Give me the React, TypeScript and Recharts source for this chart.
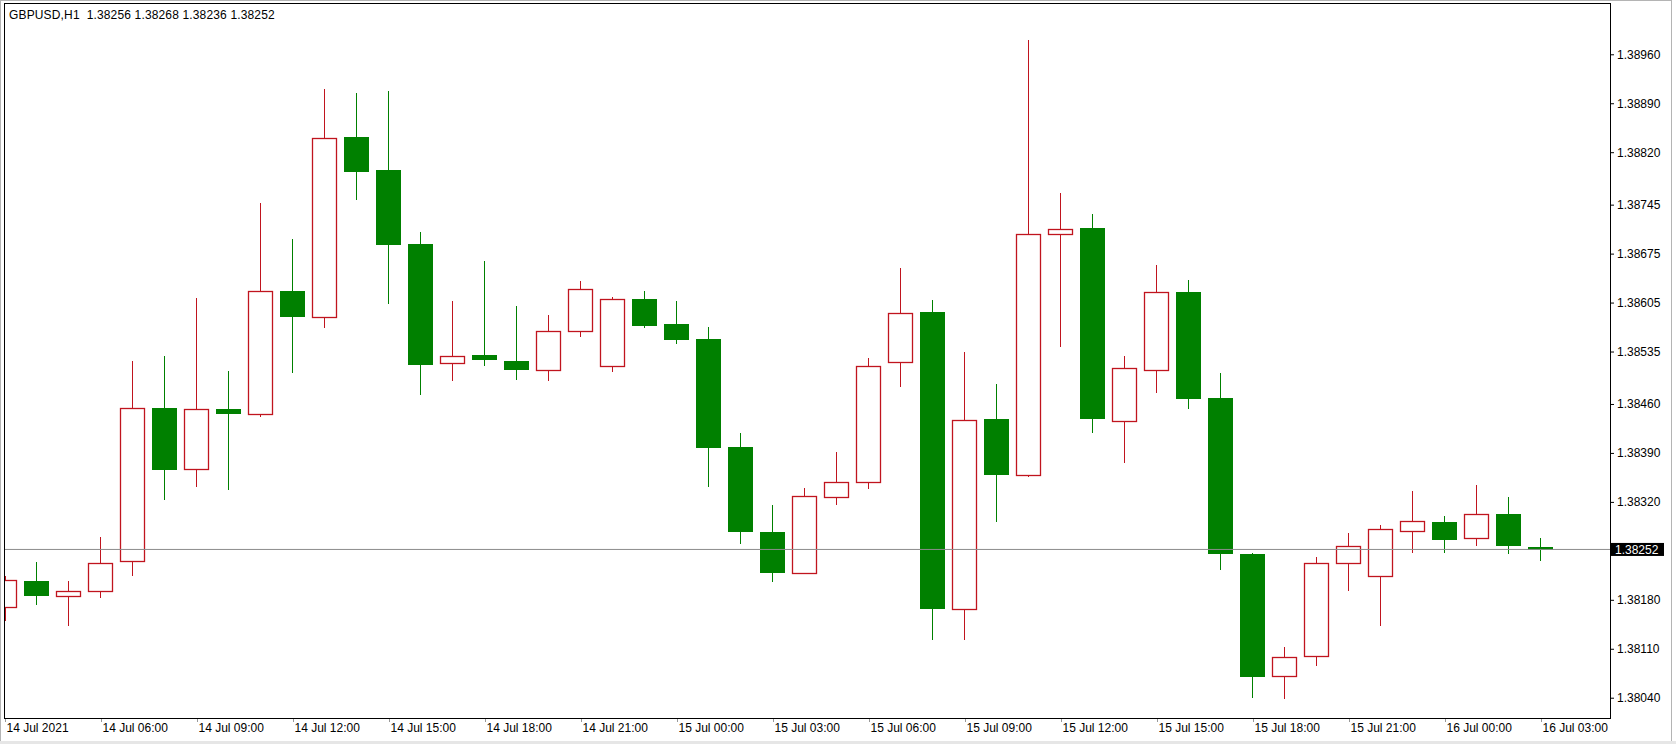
import React from 'react';
import { ComposedChart, Bar, XAxis, YAxis, ReferenceLine } from 'recharts';

// GBPUSD H1, 14 Jul 03:00 .. 16 Jul 03:00
const times = [
  '14 Jul 03:00', '14 Jul 04:00', '14 Jul 05:00', '14 Jul 06:00', '14 Jul 07:00', '14 Jul 08:00',
  '14 Jul 09:00', '14 Jul 10:00', '14 Jul 11:00', '14 Jul 12:00', '14 Jul 13:00', '14 Jul 14:00',
  '14 Jul 15:00', '14 Jul 16:00', '14 Jul 17:00', '14 Jul 18:00', '14 Jul 19:00', '14 Jul 20:00',
  '14 Jul 21:00', '14 Jul 22:00', '14 Jul 23:00', '15 Jul 00:00', '15 Jul 01:00', '15 Jul 02:00',
  '15 Jul 03:00', '15 Jul 04:00', '15 Jul 05:00', '15 Jul 06:00', '15 Jul 07:00', '15 Jul 08:00',
  '15 Jul 09:00', '15 Jul 10:00', '15 Jul 11:00', '15 Jul 12:00', '15 Jul 13:00', '15 Jul 14:00',
  '15 Jul 15:00', '15 Jul 16:00', '15 Jul 17:00', '15 Jul 18:00', '15 Jul 19:00', '15 Jul 20:00',
  '15 Jul 21:00', '15 Jul 22:00', '15 Jul 23:00', '16 Jul 00:00', '16 Jul 01:00', '16 Jul 02:00',
  '16 Jul 03:00',
];

const opens = [
  1.38169, 1.38207, 1.38186, 1.38193, 1.38236, 1.38454, 1.38367, 1.38453, 1.38445, 1.38622,
  1.38585, 1.38842, 1.38795, 1.38689, 1.38518, 1.38530, 1.38521, 1.38508, 1.38564, 1.38515,
  1.38610, 1.38574, 1.38553, 1.38398, 1.38277, 1.38219, 1.38327, 1.38348, 1.38520, 1.38592,
  1.38167, 1.38438, 1.38358, 1.38703, 1.38711, 1.38435, 1.38508, 1.38620, 1.38468, 1.38246,
  1.38071, 1.38100, 1.38232, 1.38214, 1.38279, 1.38291, 1.38268, 1.38303, 1.38256,
];
const highs = [
  1.38214, 1.38234, 1.38207, 1.38270, 1.38521, 1.38528, 1.38611, 1.38507, 1.38747, 1.38696,
  1.38911, 1.38905, 1.38908, 1.38706, 1.38607, 1.38665, 1.38600, 1.38587, 1.38636, 1.38613,
  1.38622, 1.38607, 1.38570, 1.38419, 1.38315, 1.38340, 1.38391, 1.38526, 1.38655, 1.38608,
  1.38535, 1.38489, 1.38980, 1.38762, 1.38732, 1.38529, 1.38659, 1.38637, 1.38504, 1.38247,
  1.38113, 1.38241, 1.38276, 1.38287, 1.38336, 1.38300, 1.38344, 1.38327, 1.38268,
];
const lows = [
  1.38150, 1.38173, 1.38143, 1.38182, 1.38214, 1.38323, 1.38341, 1.38337, 1.38441, 1.38505,
  1.38569, 1.38751, 1.38603, 1.38473, 1.38493, 1.38514, 1.38494, 1.38493, 1.38556, 1.38506,
  1.38568, 1.38546, 1.38342, 1.38260, 1.38206, 1.38218, 1.38316, 1.38339, 1.38484, 1.38122,
  1.38122, 1.38291, 1.38355, 1.38541, 1.38418, 1.38375, 1.38475, 1.38453, 1.38222, 1.38040,
  1.38038, 1.38086, 1.38192, 1.38143, 1.38247, 1.38247, 1.38257, 1.38246, 1.38236,
];
const closes = [
  1.38209, 1.38186, 1.38193, 1.38233, 1.38454, 1.38366, 1.38453, 1.38445, 1.38621, 1.38584,
  1.38840, 1.38792, 1.38688, 1.38516, 1.38528, 1.38523, 1.38508, 1.38564, 1.38625, 1.38610,
  1.38572, 1.38552, 1.38397, 1.38277, 1.38219, 1.38328, 1.38348, 1.38515, 1.38590, 1.38167,
  1.38437, 1.38358, 1.38703, 1.38710, 1.38438, 1.38511, 1.38620, 1.38467, 1.38246, 1.38069,
  1.38098, 1.38232, 1.38257, 1.38281, 1.38292, 1.38266, 1.38303, 1.38257, 1.38252,
];

const priceTicks = [
  1.3896, 1.3889, 1.3882, 1.38745, 1.38675, 1.38605, 1.38535, 1.3846, 1.3839, 1.3832,
  1.38252, 1.3818, 1.3811, 1.3804,
];
const timeTickIdx = [0, 3, 6, 9, 12, 15, 18, 21, 24, 27, 30, 33, 36, 39, 42, 45, 48];
const timeTickLabels = [
  '14 Jul 2021', '14 Jul 06:00', '14 Jul 09:00', '14 Jul 12:00', '14 Jul 15:00', '14 Jul 18:00',
  '14 Jul 21:00', '15 Jul 00:00', '15 Jul 03:00', '15 Jul 06:00', '15 Jul 09:00', '15 Jul 12:00',
  '15 Jul 15:00', '15 Jul 18:00', '15 Jul 21:00', '16 Jul 00:00', '16 Jul 03:00',
];
const lastPrice = 1.38252;

const UP = '#c0141e';
const DOWN = '#008000';
const FONT = '"Liberation Sans", Arial, sans-serif';

const data = times.map((t, i) => ({
  i,
  time: t,
  open: opens[i],
  high: highs[i],
  low: lows[i],
  close: closes[i],
  range: [lows[i], highs[i]],
}));

const Candle = (props: any) => {
  const { x, y, width, height, payload } = props;
  if (x == null || !payload) return null;
  const { open, close, high, low } = payload;
  const toY = (p: number) => y + ((high - p) / (high - low)) * height;
  const cx = Math.round(x + width / 2) + 0.5;
  const bull = close >= open;
  const color = bull ? UP : DOWN;
  const top = Math.round(toY(Math.max(open, close)));
  const bot = Math.round(toY(Math.min(open, close)));
  const left = Math.round(x);
  const w = Math.round(width);
  return (
    <g>
      <line x1={cx} x2={cx} y1={Math.round(y)} y2={Math.round(y + height)} stroke={color} strokeWidth={1} />
      {bull ? (
        <rect x={left + 0.5} y={top + 0.5} width={w - 1} height={Math.max(bot - top, 2)} fill="#fff" stroke={color} strokeWidth={1.3} />
      ) : (
        <rect x={left} y={top} width={w} height={Math.max(bot - top, 3)} fill={color} />
      )}
    </g>
  );
};

const PriceTick = (props: any) => {
  const { x, y, payload } = props;
  const v = payload.value;
  if (v === lastPrice) {
    return (
      <g>
        <rect x={x + 1} y={y - 6.5} width={53} height={13} fill="#000" />
        <text x={x + 5} y={y + 4.5} fill="#fff" fontSize={12} fontFamily={FONT}>
          {v.toFixed(5)}
        </text>
      </g>
    );
  }
  return (
    <g>
      <line x1={x} x2={x + 4} y1={y + 0.5} y2={y + 0.5} stroke="#000" />
      <text x={x + 7} y={y + 4.5} fill="#000" fontSize={12} fontFamily={FONT}>
        {v.toFixed(5)}
      </text>
    </g>
  );
};

const TimeTick = (props: any) => {
  const { x, y, payload } = props;
  const k = timeTickIdx.indexOf(payload.value);
  const xx = Math.round(x) + 0.5;
  return (
    <g>
      <line x1={xx} x2={xx} y1={y} y2={y + 4} stroke="#999" />
      <text x={xx + 1} y={y + 14} fill="#000" fontSize={12} fontFamily={FONT}>
        {k >= 0 ? timeTickLabels[k] : ''}
      </text>
    </g>
  );
};

export default function App() {
  return (
    <div style={{ position: 'absolute', left: 0, top: 0, width: 1676, height: 744, background: '#fff', overflow: 'hidden' }}>
      <ComposedChart width={1676} height={744} data={data} margin={{ top: 4, right: 6, bottom: 6, left: 5 }}>
        <XAxis
          dataKey="i"
          type="number"
          domain={[0, 50.16]}
          allowDataOverflow
          ticks={timeTickIdx}
          interval={0}
          height={20}
          tickSize={0}
          tickMargin={0}
          axisLine={false}
          tickLine={false}
          tick={<TimeTick />}
        />
        <YAxis
          orientation="right"
          type="number"
          domain={[1.38011, 1.390319]}
          allowDataOverflow
          ticks={priceTicks}
          interval={0}
          width={60}
          tickSize={0}
          tickMargin={0}
          axisLine={false}
          tickLine={false}
          tick={<PriceTick />}
        />
        <ReferenceLine y={lastPrice} stroke="#8c8c8c" strokeWidth={1} />
        <Bar dataKey="range" barSize={25} shape={<Candle />} isAnimationActive={false} />
      </ComposedChart>
      {/* window and plot frames */}
      <div style={{ position: 'absolute', left: 0, top: 0, width: 1670, height: 740, border: '1px solid #b4b4b4', pointerEvents: 'none' }} />
      <div style={{ position: 'absolute', left: 4, top: 3, width: 1605, height: 714, border: '1px solid #000', pointerEvents: 'none' }} />
      <div style={{ position: 'absolute', left: 0, top: 741, width: 1676, height: 3, background: '#e6e6e6' }} />
      <div style={{ position: 'absolute', left: 9, top: 8, fontFamily: FONT, fontSize: 12, lineHeight: '14px', color: '#000', whiteSpace: 'pre', letterSpacing: '0.15px' }}>
        GBPUSD,H1  1.38256 1.38268 1.38236 1.38252
      </div>
    </div>
  );
}
